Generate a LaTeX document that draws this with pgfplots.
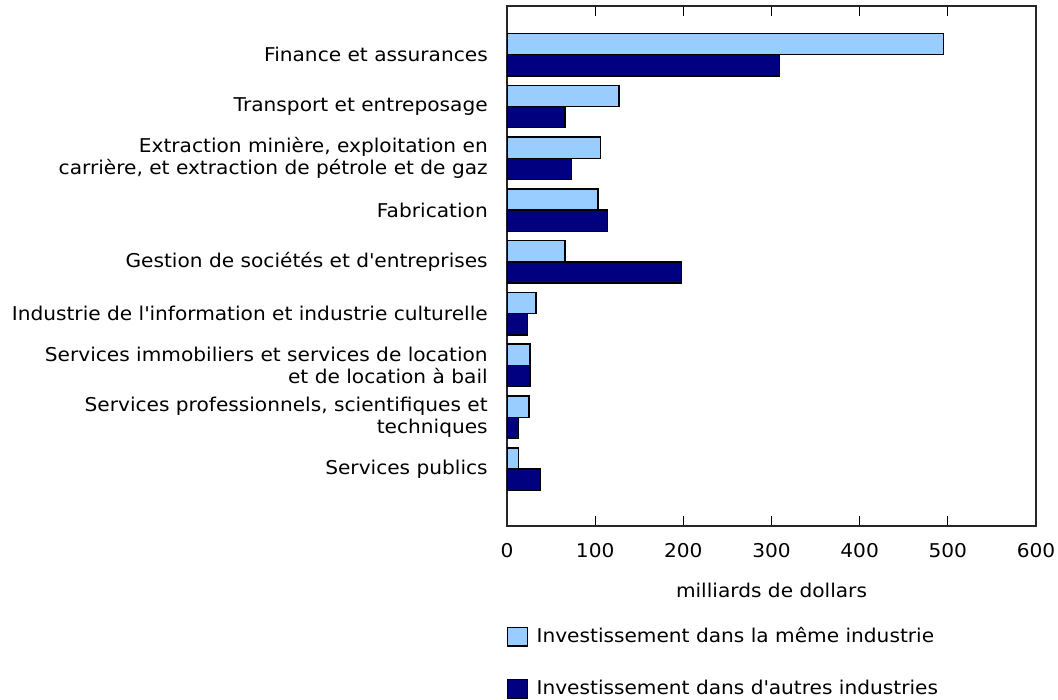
\documentclass[border=0pt]{standalone}
\usepackage{fontspec}
\setmainfont[FakeStretch=1.06]{DejaVu Sans}
\usepackage{pgfplots}
\pgfplotsset{compat=1.18}
\definecolor{lightb}{HTML}{99CCFF}
\definecolor{darkb}{HTML}{000080}
\newcommand{\fs}{\fontsize{14.25}{16.5}\selectfont}
\begin{document}
\fs
\begin{tikzpicture}
\useasboundingbox (0,0) rectangle (793.5pt,525pt);
\begin{axis}[
  at={(380.25pt,130.5pt)}, anchor=south west,
  scale only axis, width=396.75pt, height=390pt,
  xbar, bar width=0.41,
  xmin=0, xmax=600, xtick={0,100,...,600},
  ymin=-0.94, ymax=9.1, y dir=reverse,
  ytick={0,...,8},
  yticklabels={Finance et assurances, Transport et entreposage,
    {Extraction minière, exploitation en\\carrière, et extraction de pétrole et de gaz},
    Fabrication, Gestion de sociétés et d\textquotesingle entreprises,
    Industrie de l\textquotesingle information et industrie culturelle,
    {Services immobiliers et services de location\\et de location à bail},
    {Services professionnels, scientifiques et\\techniques},
    Services publics},
  ytick style={draw=none},
  xtick align=inside, major tick length=7.5pt,
  xtick style={black, line width=0.9pt},
  axis line style={line width=1.1pt, black!85},
  /pgf/number format/assume math mode=true,
  tick label style={font=\fs},
  xticklabel style={yshift=-8pt},
  yticklabel style={align=right, xshift=-2pt},
  xlabel={milliards de dollars},
  xlabel style={font=\fs, at={(axis description cs:0.5,0)}, anchor=center, yshift=-48pt},
  legend style={at={(axis description cs:0,0)}, anchor=north west, yshift=-74pt, xshift=0pt,
    draw=none, fill=none, inner sep=0pt, font=\fs, row sep=22pt,
    nodes={inner sep=2pt}},
  legend cell align=left,
  legend image code/.code={\draw[#1, line width=0.9pt] (0pt,-7pt) rectangle (14.5pt,7pt); \path (19pt,0pt);},
  every axis plot/.append style={draw=black, line width=1.1pt},
]
\addplot[fill=lightb, draw=black, bar shift=-0.205] coordinates {
  (495,0) (127,1) (106,2) (103,3) (66,4) (33,5) (26,6) (25,7) (13,8)};
\addplot[fill=darkb, draw=black, bar shift=0.205] coordinates {
  (309,0) (66,1) (73,2) (114,3) (198,4) (23,5) (26,6) (13,7) (38,8)};
\legend{Investissement dans la même industrie, Investissement dans d\textquotesingle autres industries}
\end{axis}
\end{tikzpicture}
\end{document}
